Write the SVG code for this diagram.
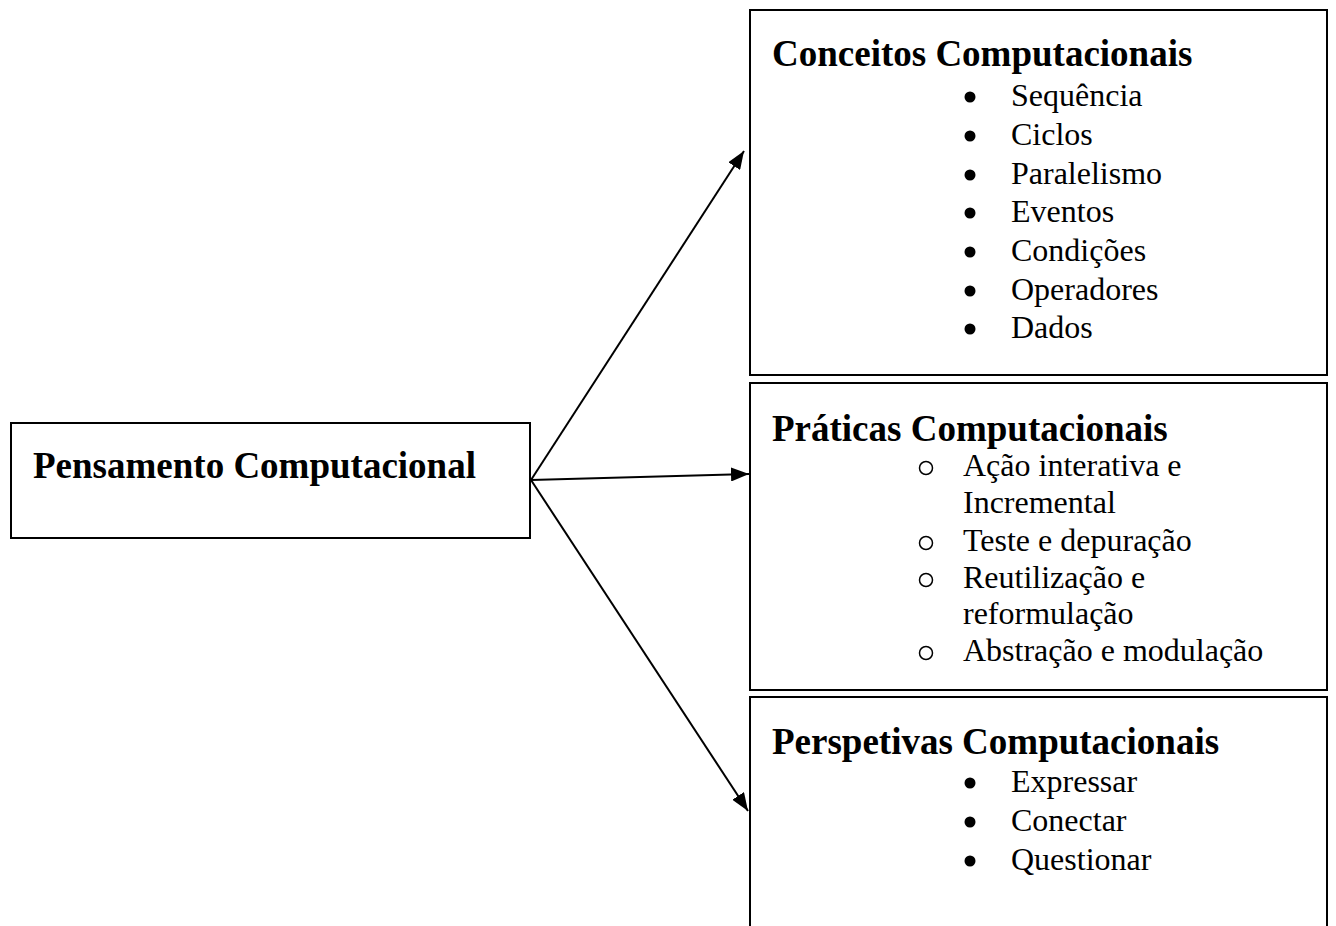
<svg xmlns="http://www.w3.org/2000/svg" width="1336" height="926" viewBox="0 0 1336 926">
<defs>
<marker id="ah" viewBox="0 0 18 14" refX="18" refY="7" markerWidth="18" markerHeight="14" markerUnits="userSpaceOnUse" orient="auto">
<path d="M0,0 L18,7 L0,14 Z" fill="#000"/>
</marker>
</defs>
<style>
.box{fill:#fff;stroke:#000;stroke-width:2}
.title{font-family:"Liberation Serif","Times New Roman",serif;font-weight:bold;font-size:37px;fill:#000}
.item{font-family:"Liberation Serif","Times New Roman",serif;font-size:32px;fill:#000}
.conn{stroke:#000;stroke-width:2;fill:none;marker-end:url(#ah)}
.dot{fill:#000}
.ring{fill:none;stroke:#000;stroke-width:1.5}
</style>
<rect width="1336" height="926" fill="#fff"/>
<g id="node-pensamento">
<rect class="box" x="11" y="423" width="519" height="115"/>
<text class="title" x="33" y="478">Pensamento Computacional</text>
</g>
<g id="node-conceitos">
<rect class="box" x="750" y="10" width="577" height="365"/>
<text class="title" x="772" y="66">Conceitos Computacionais</text>
<circle class="dot" cx="970" cy="97" r="5.5"/><text class="item" x="1011" y="106">Sequência</text>
<circle class="dot" cx="970" cy="136" r="5.5"/><text class="item" x="1011" y="145">Ciclos</text>
<circle class="dot" cx="970" cy="175" r="5.5"/><text class="item" x="1011" y="184">Paralelismo</text>
<circle class="dot" cx="970" cy="213" r="5.5"/><text class="item" x="1011" y="222">Eventos</text>
<circle class="dot" cx="970" cy="252" r="5.5"/><text class="item" x="1011" y="261">Condições</text>
<circle class="dot" cx="970" cy="291" r="5.5"/><text class="item" x="1011" y="300">Operadores</text>
<circle class="dot" cx="970" cy="329" r="5.5"/><text class="item" x="1011" y="338">Dados</text>
</g>
<g id="node-praticas">
<rect class="box" x="750" y="383" width="577" height="307"/>
<text class="title" x="772" y="441">Práticas Computacionais</text>
<circle class="ring" cx="926" cy="468" r="6.5"/><text class="item" x="963" y="476">Ação interativa e</text>
<text class="item" x="963" y="513">Incremental</text>
<circle class="ring" cx="926" cy="543" r="6.5"/><text class="item" x="963" y="551">Teste e depuração</text>
<circle class="ring" cx="926" cy="580" r="6.5"/><text class="item" x="963" y="588">Reutilização e</text>
<text class="item" x="963" y="624">reformulação</text>
<circle class="ring" cx="926" cy="653" r="6.5"/><text class="item" x="963" y="661">Abstração e modulação</text>
</g>
<g id="node-perspetivas">
<rect class="box" x="750" y="697" width="577" height="240"/>
<text class="title" x="772" y="754">Perspetivas Computacionais</text>
<circle class="dot" cx="970" cy="783" r="5.5"/><text class="item" x="1011" y="792">Expressar</text>
<circle class="dot" cx="970" cy="822" r="5.5"/><text class="item" x="1011" y="831">Conectar</text>
<circle class="dot" cx="970" cy="861" r="5.5"/><text class="item" x="1011" y="870">Questionar</text>
</g>
<g id="connectors">
<line class="conn" x1="531" y1="480" x2="744" y2="151"/>
<line class="conn" x1="531" y1="480" x2="749" y2="474"/>
<line class="conn" x1="531" y1="480" x2="748" y2="811"/>
</g>
</svg>
